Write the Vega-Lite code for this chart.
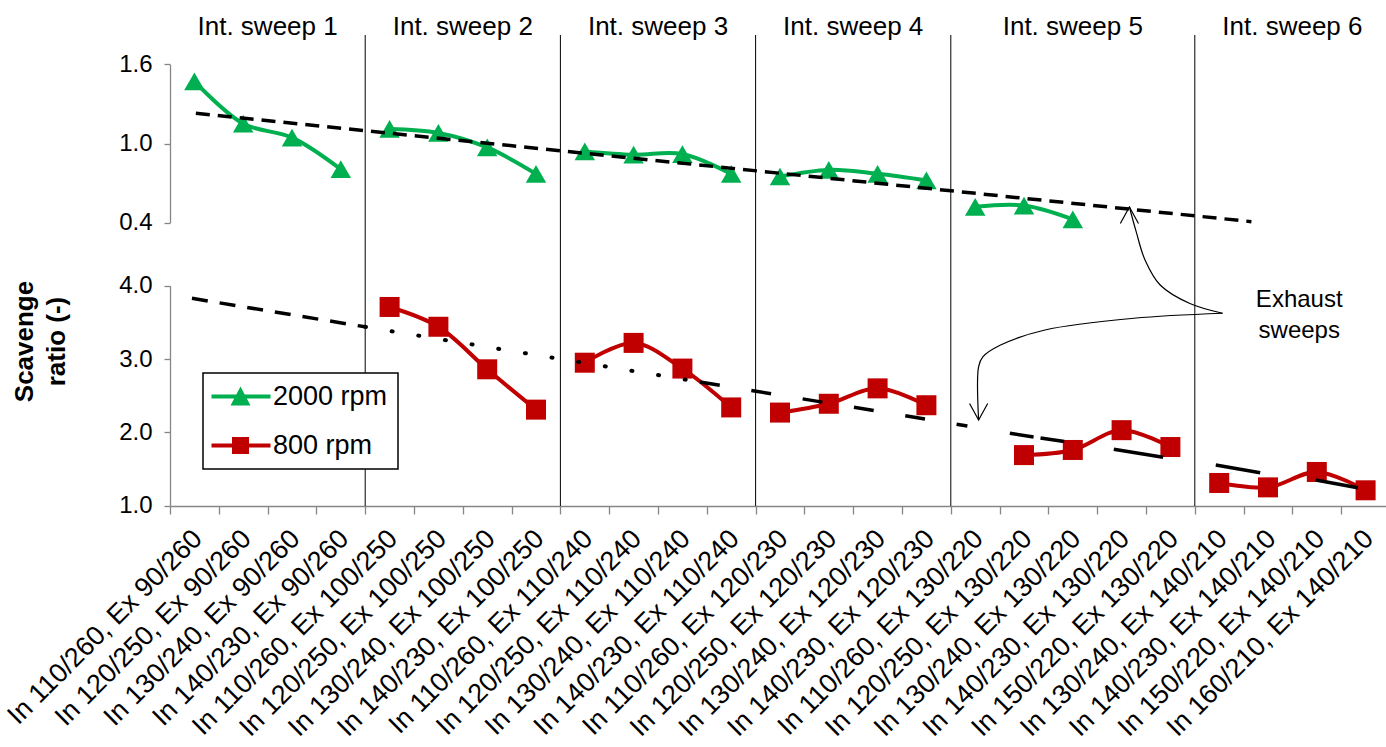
{
  "$schema": "https://vega.github.io/schema/vega-lite/v6.json",
  "width": 1220,
  "height": 471,
  "autosize": "none",
  "padding": {"left": 170, "top": 35, "right": 0, "bottom": 241},
  "config": {
    "font": "Liberation Sans",
    "view": {"stroke": null},
    "axis": {"grid": false, "domainColor": "#868686", "tickColor": "#868686", "labelColor": "#000000", "labelFont": "Liberation Sans", "labelFontSize": 24, "domainWidth": 1.3, "tickWidth": 1.3},
    "legend": {"strokeWidth": 1.5}
  },
  "datasets": {
    "pts": [
      {"cat": "In 110/260, Ex 90/260", "rpm": "2000 rpm", "sweep": 1, "sr": 1.47},
      {"cat": "In 120/250, Ex 90/260", "rpm": "2000 rpm", "sweep": 1, "sr": 1.15},
      {"cat": "In 130/240, Ex 90/260", "rpm": "2000 rpm", "sweep": 1, "sr": 1.045},
      {"cat": "In 140/230, Ex 90/260", "rpm": "2000 rpm", "sweep": 1, "sr": 0.805},
      {"cat": "In 110/260, Ex 100/250", "rpm": "2000 rpm", "sweep": 2, "sr": 1.11},
      {"cat": "In 120/250, Ex 100/250", "rpm": "2000 rpm", "sweep": 2, "sr": 1.08},
      {"cat": "In 130/240, Ex 100/250", "rpm": "2000 rpm", "sweep": 2, "sr": 0.97},
      {"cat": "In 140/230, Ex 100/250", "rpm": "2000 rpm", "sweep": 2, "sr": 0.77},
      {"cat": "In 110/260, Ex 110/240", "rpm": "2000 rpm", "sweep": 3, "sr": 0.94},
      {"cat": "In 120/250, Ex 110/240", "rpm": "2000 rpm", "sweep": 3, "sr": 0.915},
      {"cat": "In 130/240, Ex 110/240", "rpm": "2000 rpm", "sweep": 3, "sr": 0.92},
      {"cat": "In 140/230, Ex 110/240", "rpm": "2000 rpm", "sweep": 3, "sr": 0.77},
      {"cat": "In 110/260, Ex 120/230", "rpm": "2000 rpm", "sweep": 4, "sr": 0.75},
      {"cat": "In 120/250, Ex 120/230", "rpm": "2000 rpm", "sweep": 4, "sr": 0.80},
      {"cat": "In 130/240, Ex 120/230", "rpm": "2000 rpm", "sweep": 4, "sr": 0.77},
      {"cat": "In 140/230, Ex 120/230", "rpm": "2000 rpm", "sweep": 4, "sr": 0.72},
      {"cat": "In 110/260, Ex 130/220", "rpm": "2000 rpm", "sweep": 5, "sr": 0.52},
      {"cat": "In 120/250, Ex 130/220", "rpm": "2000 rpm", "sweep": 5, "sr": 0.53},
      {"cat": "In 130/240, Ex 130/220", "rpm": "2000 rpm", "sweep": 5, "sr": 0.425},
      {"cat": "In 110/260, Ex 100/250", "rpm": "800 rpm", "sweep": 2, "sr": 3.71},
      {"cat": "In 120/250, Ex 100/250", "rpm": "800 rpm", "sweep": 2, "sr": 3.44},
      {"cat": "In 130/240, Ex 100/250", "rpm": "800 rpm", "sweep": 2, "sr": 2.86},
      {"cat": "In 140/230, Ex 100/250", "rpm": "800 rpm", "sweep": 2, "sr": 2.31},
      {"cat": "In 110/260, Ex 110/240", "rpm": "800 rpm", "sweep": 3, "sr": 2.95},
      {"cat": "In 120/250, Ex 110/240", "rpm": "800 rpm", "sweep": 3, "sr": 3.22},
      {"cat": "In 130/240, Ex 110/240", "rpm": "800 rpm", "sweep": 3, "sr": 2.87},
      {"cat": "In 140/230, Ex 110/240", "rpm": "800 rpm", "sweep": 3, "sr": 2.34},
      {"cat": "In 110/260, Ex 120/230", "rpm": "800 rpm", "sweep": 4, "sr": 2.27},
      {"cat": "In 120/250, Ex 120/230", "rpm": "800 rpm", "sweep": 4, "sr": 2.39},
      {"cat": "In 130/240, Ex 120/230", "rpm": "800 rpm", "sweep": 4, "sr": 2.60},
      {"cat": "In 140/230, Ex 120/230", "rpm": "800 rpm", "sweep": 4, "sr": 2.37},
      {"cat": "In 120/250, Ex 130/220", "rpm": "800 rpm", "sweep": 5, "sr": 1.69},
      {"cat": "In 130/240, Ex 130/220", "rpm": "800 rpm", "sweep": 5, "sr": 1.76},
      {"cat": "In 140/230, Ex 130/220", "rpm": "800 rpm", "sweep": 5, "sr": 2.03},
      {"cat": "In 150/220, Ex 130/220", "rpm": "800 rpm", "sweep": 5, "sr": 1.80},
      {"cat": "In 130/240, Ex 140/210", "rpm": "800 rpm", "sweep": 6, "sr": 1.31},
      {"cat": "In 140/230, Ex 140/210", "rpm": "800 rpm", "sweep": 6, "sr": 1.25},
      {"cat": "In 150/220, Ex 140/210", "rpm": "800 rpm", "sweep": 6, "sr": 1.46},
      {"cat": "In 160/210, Ex 140/210", "rpm": "800 rpm", "sweep": 6, "sr": 1.21}
    ]
  },
  "resolve": {"scale": {"x": "independent", "y": "independent"}},
  "layer": [
    {
      "encoding": {
        "x": {
          "field": "cat", "type": "nominal", "title": null,
          "scale": {"type": "band", "paddingInner": 0, "paddingOuter": 0,
            "domain": ["In 110/260, Ex 90/260", "In 120/250, Ex 90/260", "In 130/240, Ex 90/260", "In 140/230, Ex 90/260",
              "In 110/260, Ex 100/250", "In 120/250, Ex 100/250", "In 130/240, Ex 100/250", "In 140/230, Ex 100/250",
              "In 110/260, Ex 110/240", "In 120/250, Ex 110/240", "In 130/240, Ex 110/240", "In 140/230, Ex 110/240",
              "In 110/260, Ex 120/230", "In 120/250, Ex 120/230", "In 130/240, Ex 120/230", "In 140/230, Ex 120/230",
              "In 110/260, Ex 130/220", "In 120/250, Ex 130/220", "In 130/240, Ex 130/220", "In 140/230, Ex 130/220", "In 150/220, Ex 130/220",
              "In 130/240, Ex 140/210", "In 140/230, Ex 140/210", "In 150/220, Ex 140/210", "In 160/210, Ex 140/210"]},
          "axis": {"orient": "bottom", "labelAngle": -45, "labelAlign": "right", "labelBaseline": "top", "tickBand": "extent", "tickSize": 8, "labelPadding": 11, "labelOffset": -6, "labelFontSize": 27, "labelLimit": 400, "labelOverlap": false, "labelColor": "#000000"}
        }
      },
      "resolve": {"scale": {"y": "independent"}},
      "layer": [
        {
          "data": {"values": [
            {"cat": "In 110/260, Ex 100/250"},
            {"cat": "In 110/260, Ex 110/240"},
            {"cat": "In 110/260, Ex 120/230"},
            {"cat": "In 110/260, Ex 130/220"},
            {"cat": "In 130/240, Ex 140/210"}
          ]},
          "mark": {"type": "rule", "color": "#000000", "strokeWidth": 1},
          "encoding": {"x": {"field": "cat", "type": "nominal", "bandPosition": 0, "title": null, "scale": {"type": "band", "paddingInner": 0, "paddingOuter": 0}}}
        },
        {
          "data": {"name": "pts"},
          "transform": [{"filter": "datum.rpm === '2000 rpm'"}],
          "encoding": {
            "y": {"field": "sr", "type": "quantitative",
              "scale": {"domain": [0.4, 1.6], "range": [187.7, 29.3], "zero": false, "nice": false},
              "axis": {"orient": "left", "values": [0.4, 1.0, 1.6], "format": ".1f", "title": null, "tickSize": 6, "labelPadding": 12}}
          },
          "layer": [
            {"mark": {"type": "line", "color": "#00B050", "strokeWidth": 4, "interpolate": "catmull-rom"},
             "encoding": {"detail": {"field": "sweep", "type": "nominal"}, "order": {"value": null}}},
            {"mark": {"type": "point", "shape": "triangle-up", "filled": true, "color": "#00B050", "size": 420, "opacity": 1}}
          ]
        },
        {
          "data": {"name": "pts"},
          "transform": [{"filter": "datum.rpm === '800 rpm'"}],
          "encoding": {
            "y": {"field": "sr", "type": "quantitative",
              "scale": {"domain": [1, 4], "range": [470.7, 250.7], "zero": false, "nice": false},
              "axis": {"orient": "left", "values": [1, 2, 3, 4], "format": ".1f", "tickSize": 6, "labelPadding": 12,
                "title": ["Scavenge", "ratio (-)"], "titleFontSize": 26, "titleFontWeight": "bold", "titleColor": "#000000",
                "titleAngle": -90, "titleX": -138, "titleY": 306, "titleAlign": "center", "titleBaseline": "alphabetic", "titleLineHeight": 32}}
          },
          "layer": [
            {"mark": {"type": "line", "color": "#C00000", "strokeWidth": 4, "interpolate": "catmull-rom"},
             "encoding": {"detail": {"field": "sweep", "type": "nominal"}, "order": {"value": null}}},
            {"mark": {"type": "point", "shape": "square", "filled": true, "color": "#C00000", "size": 400, "opacity": 1}}
          ]
        },
        {
          "data": {"name": "pts"},
          "transform": [{"filter": "false"}],
          "mark": {"type": "point", "filled": true, "opacity": 1, "size": 400},
          "encoding": {
            "color": {"field": "rpm", "type": "nominal",
              "scale": {"domain": ["2000 rpm", "800 rpm"], "range": ["#00B050", "#C00000"]},
              "legend": {"orient": "none", "legendX": 33, "legendY": 338, "title": null, "strokeColor": "#000000", "fillColor": "#ffffff",
                "padding": 10, "labelFontSize": 27, "labelFont": "Liberation Sans", "labelColor": "#000000", "labelOffset": 33,
                "symbolSize": 400, "symbolStrokeWidth": 0, "symbolOpacity": 1, "rowPadding": 21, "labelLimit": 300}},
            "shape": {"field": "rpm", "type": "nominal",
              "scale": {"domain": ["2000 rpm", "800 rpm"], "range": [
                "M-1.5,-0.2L4.4,-0.2L4.4,0.2L-1.5,0.2Z M1.4,-1.0L2.4,0.9L0.4,0.9Z",
                "M-1.5,-0.2L4.4,-0.2L4.4,0.2L-1.5,0.2Z M0.55,-0.85L2.25,-0.85L2.25,0.85L0.55,0.85Z"]}}
          }
        }
      ]
    },
    {
      "resolve": {"scale": {"y": "independent"}},
      "layer": [
        {
          "layer": [
            {
              "data": {"values": [{"u1": 0.53, "v1": 1.229, "u2": 22.16, "v2": 0.408}]},
              "mark": {"type": "rule", "color": "#000000", "strokeWidth": 3.5, "strokeDash": [14, 8]},
              "encoding": {
                "x": {"field": "u1", "type": "quantitative", "scale": {"domain": [0, 25], "nice": false, "zero": false}, "axis": null},
                "x2": {"field": "u2"},
                "y": {"field": "v1", "type": "quantitative", "scale": {"domain": [0.4, 1.6], "range": [187.7, 29.3], "zero": false, "nice": false}, "axis": null},
                "y2": {"field": "v2"}
              }
            },
            {
              "data": {"values": [
                {"label": "Int. sweep 1", "u": 2},
                {"label": "Int. sweep 2", "u": 6},
                {"label": "Int. sweep 3", "u": 10},
                {"label": "Int. sweep 4", "u": 14},
                {"label": "Int. sweep 5", "u": 18.5},
                {"label": "Int. sweep 6", "u": 23}
              ]},
              "mark": {"type": "text", "fontSize": 26, "align": "center", "baseline": "alphabetic", "color": "#000000"},
              "encoding": {
                "x": {"field": "u", "type": "quantitative", "scale": {"domain": [0, 25], "nice": false, "zero": false}, "axis": null},
                "y": {"datum": 1.822, "type": "quantitative", "scale": {"domain": [0.4, 1.6], "range": [187.7, 29.3], "zero": false, "nice": false}, "axis": null},
                "text": {"field": "label"}
              }
            }
          ]
        },
        {
          "encoding": {
            "x": {"field": "u1", "type": "quantitative", "scale": {"domain": [0, 25], "nice": false, "zero": false}, "axis": null},
            "x2": {"field": "u2"},
            "y": {"field": "v1", "type": "quantitative", "scale": {"domain": [1, 4], "range": [470.7, 250.7], "zero": false, "nice": false}, "axis": null},
            "y2": {"field": "v2"}
          },
          "layer": [
            {
              "data": {"values": [{"u1": 0.45, "v1": 3.828, "u2": 3.996, "v2": 3.439}]},
              "mark": {"type": "rule", "color": "#000000", "strokeWidth": 3.5, "strokeDash": [16, 12]}
            },
            {
              "data": {"values": [{"u1": 3.996, "v1": 3.439, "u2": 10.861, "v2": 2.687}]},
              "mark": {"type": "rule", "color": "#000000", "strokeWidth": 4, "strokeCap": "round", "strokeDash": [1, 26]}
            },
            {
              "data": {"values": [{"u1": 10.861, "v1": 2.687, "u2": 16.34, "v2": 2.087}]},
              "mark": {"type": "rule", "color": "#000000", "strokeWidth": 3.5, "strokeDash": [20, 32]}
            },
            {
              "data": {"values": [{"u1": 17.21, "v1": 1.987, "u2": 18.34, "v2": 1.873}]},
              "mark": {"type": "rule", "color": "#000000", "strokeWidth": 3.5, "strokeDash": [24, 7]}
            },
            {
              "data": {"values": [
                {"u1": 19.34, "v1": 1.769, "u2": 20.35, "v2": 1.660},
                {"u1": 21.43, "v1": 1.555, "u2": 22.34, "v2": 1.450},
                {"u1": 23.48, "v1": 1.350, "u2": 24.34, "v2": 1.245}
              ]},
              "mark": {"type": "rule", "color": "#000000", "strokeWidth": 3.5}
            },
            {
              "data": {"values": [
                {"curve": "a", "k": 1, "u": 21.57, "v": 3.624},
                {"curve": "a", "k": 2, "u": 20.90, "v": 3.757},
                {"curve": "a", "k": 3, "u": 20.29, "v": 4.010},
                {"curve": "a", "k": 4, "u": 19.98, "v": 4.351},
                {"curve": "a", "k": 5, "u": 19.80, "v": 4.733},
                {"curve": "a", "k": 6, "u": 19.66, "v": 5.073},
                {"curve": "b", "k": 1, "u": 21.57, "v": 3.624},
                {"curve": "b", "k": 2, "u": 19.75, "v": 3.556},
                {"curve": "b", "k": 3, "u": 17.93, "v": 3.396},
                {"curve": "b", "k": 4, "u": 17.02, "v": 3.191},
                {"curve": "b", "k": 5, "u": 16.66, "v": 3.032},
                {"curve": "b", "k": 6, "u": 16.57, "v": 2.896},
                {"curve": "b", "k": 7, "u": 16.57, "v": 2.169}
              ]},
              "mark": {"type": "line", "color": "#000000", "strokeWidth": 1.2, "interpolate": "catmull-rom"},
              "encoding": {
                "x": {"field": "u", "type": "quantitative", "scale": {"domain": [0, 25], "nice": false, "zero": false}, "axis": null},
                "x2": null,
                "y": {"field": "v", "type": "quantitative", "scale": {"domain": [1, 4], "range": [470.7, 250.7], "zero": false, "nice": false}, "axis": null},
                "y2": null,
                "detail": {"field": "curve", "type": "nominal"},
                "order": {"field": "k", "type": "quantitative"}
              }
            },
            {
              "data": {"values": [{"u": 19.66, "v": 5.073}]},
              "mark": {"type": "point", "shape": "M-0.55,1L0,0L0.55,1", "filled": false, "color": "#000000", "strokeWidth": 1.2, "size": 1089, "opacity": 1},
              "encoding": {
                "x": {"field": "u", "type": "quantitative", "scale": {"domain": [0, 25], "nice": false, "zero": false}, "axis": null},
                "x2": null,
                "y": {"field": "v", "type": "quantitative", "scale": {"domain": [1, 4], "range": [470.7, 250.7], "zero": false, "nice": false}, "axis": null},
                "y2": null
              }
            },
            {
              "data": {"values": [{"u": 16.57, "v": 2.169}]},
              "mark": {"type": "point", "shape": "M-0.55,-1L0,0L0.55,-1", "filled": false, "color": "#000000", "strokeWidth": 1.2, "size": 1089, "opacity": 1},
              "encoding": {
                "x": {"field": "u", "type": "quantitative", "scale": {"domain": [0, 25], "nice": false, "zero": false}, "axis": null},
                "x2": null,
                "y": {"field": "v", "type": "quantitative", "scale": {"domain": [1, 4], "range": [470.7, 250.7], "zero": false, "nice": false}, "axis": null},
                "y2": null
              }
            },
            {
              "data": {"values": [{"t": "Exhaust\nsweeps", "u": 23.14, "v": 3.706}]},
              "mark": {"type": "text", "fontSize": 24, "align": "center", "baseline": "alphabetic", "lineBreak": "\n", "lineHeight": 31, "color": "#000000"},
              "encoding": {
                "x": {"field": "u", "type": "quantitative", "scale": {"domain": [0, 25], "nice": false, "zero": false}, "axis": null},
                "x2": null,
                "y": {"field": "v", "type": "quantitative", "scale": {"domain": [1, 4], "range": [470.7, 250.7], "zero": false, "nice": false}, "axis": null},
                "y2": null,
                "text": {"field": "t"}
              }
            }
          ]
        }
      ]
    }
  ]
}
